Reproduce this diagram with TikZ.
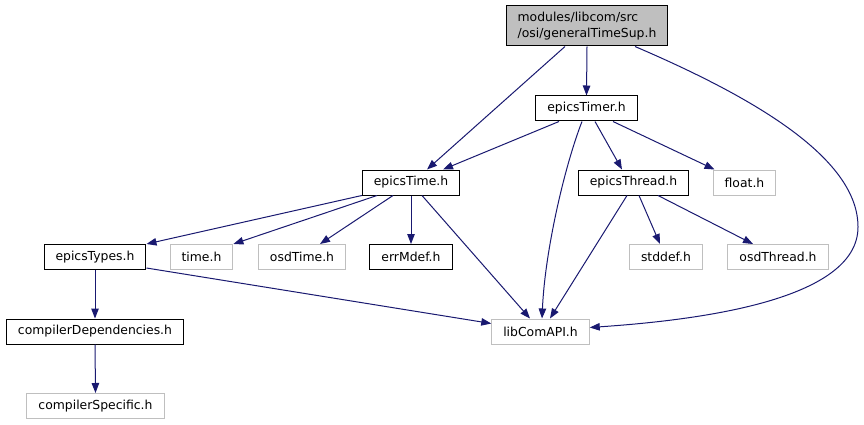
\documentclass[tikz,border=0pt]{standalone}
\usepackage{fontspec}
\setmainfont{DejaVu Sans}
\usetikzlibrary{arrows.meta}
\definecolor{edgeblue}{RGB}{25,25,112}
\definecolor{boxgray}{RGB}{191,191,191}
\tikzset{file/.style={draw=black, line width=1pt, inner xsep=11.5pt, inner ysep=0pt, minimum height=25pt, font=\fontsize{12.4}{16}\selectfont},
 extfile/.style={file, draw=boxgray},
 incl/.style={draw=edgeblue, line width=1pt, -{Triangle[length=10pt,width=7.5pt]}}}

\begin{document}
\begin{tikzpicture}[x=1pt,y=-1pt]
  \useasboundingbox (0,0) rectangle (864,425);
  \node[file, fill=boxgray, align=left, minimum height=40pt] (root) at (587,26) {modules/libcom/src\\/osi/generalTimeSup.h};
  \node[file] (timer) at (586.5,108.5) {epicsTimer.h};
  \node[file] (etime) at (411,182.5) {epicsTime.h};
  \node[file] (thread) at (633.5,182.5) {epicsThread.h};
  \node[extfile] (floath) at (744.5,182.5) {float.h};
  \node[file] (types) at (95,257) {epicsTypes.h};
  \node[extfile] (timeh) at (201.5,257) {time.h};
  \node[extfile] (osdtime) at (302,257) {osdTime.h};
  \node[file] (errmdef) at (411,257) {errMdef.h};
  \node[extfile] (stddefh) at (666,257) {stddef.h};
  \node[extfile] (osdthread) at (778,257) {osdThread.h};
  \node[file] (compdep) at (95,331.5) {compilerDependencies.h};
  \node[extfile] (libcom) at (540.5,331.5) {libComAPI.h};
  \node[extfile] (compspec) at (95.5,406) {compilerSpecific.h};

  \draw[incl] ([xshift=-22pt]root.south) -- ([xshift=16pt]etime.north);
  \draw[incl] (root.south) -- (timer.north);
  \draw[incl] ([xshift=48pt]root.south) .. controls (760,100) and (858,160) .. (858,227)
              .. controls (858,300) and (700,320) .. ([yshift=4pt]libcom.east);
  \draw[incl] ([xshift=-27.5pt]timer.south) -- ([xshift=32pt]etime.north);
  \draw[incl] ([xshift=-4.5pt]timer.south) .. controls (565,165) and (545,250) .. ([xshift=1.5pt]libcom.north);
  \draw[incl] ([xshift=8.5pt]timer.south) -- ([xshift=-11.5pt]thread.north);
  \draw[incl] ([xshift=26.5pt]timer.south) -- ([xshift=-30pt]floath.north);
  \draw[incl] (etime.south west) -- (types.north east);
  \draw[incl] ([xshift=-34pt]etime.south) -- (timeh.north east);
  \draw[incl] ([xshift=-18pt]etime.south) -- ([xshift=18pt]osdtime.north);
  \draw[incl] (etime.south) -- (errmdef.north);
  \draw[incl] ([xshift=11pt]etime.south) -- ([xshift=-10.5pt]libcom.north);
  \draw[incl] ([xshift=-6.5pt]thread.south) -- ([xshift=9.5pt]libcom.north);
  \draw[incl] ([xshift=5.5pt]thread.south) -- ([xshift=-6pt]stddefh.north);
  \draw[incl] ([xshift=24.5pt]thread.south) -- ([xshift=-25pt]osdthread.north);
  \draw[incl] ([yshift=2pt]types.south east) -- ([yshift=8pt]libcom.west);
  \draw[incl] (types.south) -- (compdep.north);
  \draw[incl] (compdep.south) -- (compspec.north);
\end{tikzpicture}
\end{document}
